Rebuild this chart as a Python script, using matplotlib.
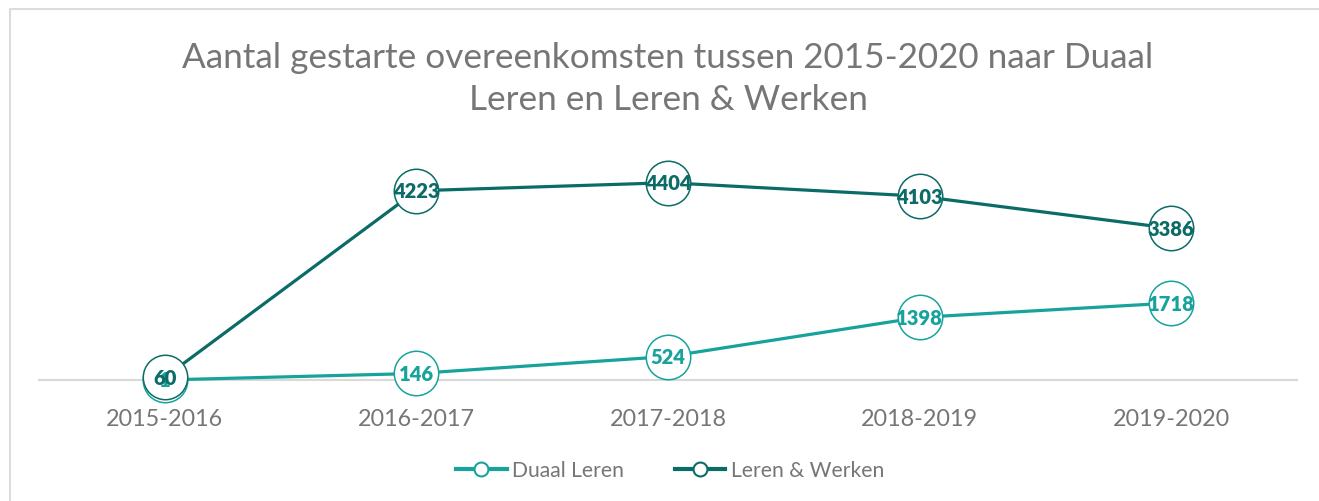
import matplotlib.pyplot as plt
from matplotlib.lines import Line2D

plt.rcParams['font.family'] = ['Lato', 'DejaVu Sans']

years = ['2015-2016', '2016-2017', '2017-2018', '2018-2019', '2019-2020']
duaal_leren = [1, 146, 524, 1398, 1718]
leren_werken = [60, 4223, 4404, 4103, 3386]

light_teal = '#17a39c'
dark_teal = '#0b6b66'
grey_text = '#767676'

fig = plt.figure(figsize=(13.19, 5.02), dpi=100)
ax = fig.add_axes([39 / 1319, 121 / 502, 1258 / 1319, 224 / 502])

x = range(len(years))
series = [(duaal_leren, light_teal, 'Duaal Leren'),
          (leren_werken, dark_teal, 'Leren & Werken')]

for values, color, name in series:
    ax.plot(x, values, color=color, linewidth=2.3, marker='o', markersize=32,
            markerfacecolor='white', markeredgecolor=color, markeredgewidth=1.1,
            label=name, zorder=3, clip_on=False)

for values, color, name in series:
    for xi, v in zip(x, values):
        ax.text(xi, v, str(v), ha='center', va='center', fontsize=14.5,
                fontweight='heavy', color=color, zorder=5)

ax.set_xlim(-0.5, len(years) - 0.5)
ax.set_ylim(0, 5000)
ax.set_xticks(list(x))
ax.set_xticklabels(years, fontsize=16.8, color=grey_text)
ax.set_yticks([])
ax.tick_params(axis='x', length=0, pad=20)
for side in ['left', 'right', 'top']:
    ax.spines[side].set_visible(False)
ax.spines['bottom'].set_color('#d9d9d9')
ax.spines['bottom'].set_linewidth(1.5)
ax.spines['bottom'].set_zorder(1)

fig.text(668 / 1319, 1 - 79 / 502,
         'Aantal gestarte overeenkomsten tussen 2015-2020 naar Duaal\nLeren en Leren & Werken',
         ha='center', va='center', fontsize=25.3, color=grey_text, linespacing=1.4)

handles = [Line2D([], [], color=c, linewidth=3, marker='o', markersize=10,
                  markerfacecolor='white', markeredgecolor=c, markeredgewidth=1.5)
           for _, c, _ in series]
fig.legend(handles, [n for _, _, n in series], loc='center',
           bbox_to_anchor=(670 / 1319, 1 - 471 / 502), ncol=2, frameon=False,
           fontsize=15.2, labelcolor=grey_text, handlelength=2.4,
           columnspacing=2.4, handletextpad=0.25)

# outer chart frame (left and top edges)
fig.add_artist(Line2D([9.5 / 1319, 9.5 / 1319, 1.0], [0.0, 1 - 9.5 / 502, 1 - 9.5 / 502],
                      transform=fig.transFigure, color='#dcdcdc', linewidth=1.5))

fig.savefig('out.png', dpi=100, facecolor='white')
